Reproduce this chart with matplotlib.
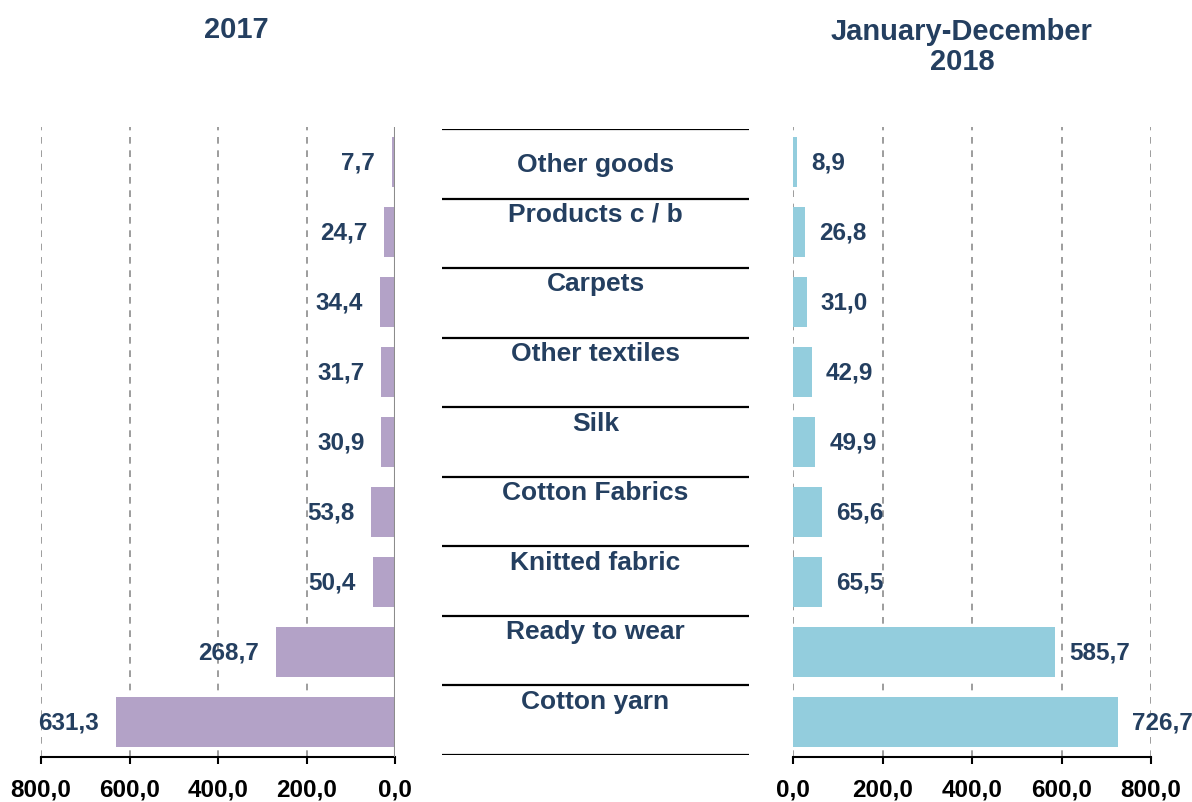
import matplotlib
matplotlib.use("Agg")
import matplotlib.pyplot as plt

plt.rcParams['font.family'] = ['Liberation Sans', 'DejaVu Sans']
plt.rcParams['font.weight'] = 'bold'

categories = ["Other goods", "Products c / b", "Carpets", "Other textiles", "Silk",
              "Cotton Fabrics", "Knitted fabric", "Ready to wear", "Cotton yarn"]
values_2017 = [7.7, 24.7, 34.4, 31.7, 30.9, 53.8, 50.4, 268.7, 631.3]
values_2018 = [8.9, 26.8, 31.0, 42.9, 49.9, 65.6, 65.5, 585.7, 726.7]
ticks = [0, 200, 400, 600, 800]

label_color = "#243F60"
grid_color = "#8C8C8C"


def fmt(v):
    return f"{v:.1f}".replace(".", ",")


fig = plt.figure(figsize=(11.92, 8.03), dpi=100)
W, H = 1192, 803
bottom = 45 / H
height = 630 / H

ax_l = fig.add_axes([41 / W, bottom, 354 / W, height])
ax_c = fig.add_axes([442 / W, 47 / H, 307 / W, 626 / H])
ax_r = fig.add_axes([793 / W, bottom, 358 / W, height])

pos = list(range(len(categories)))

for ax, vals, color, side in [(ax_l, values_2017, "#B3A2C7", "left"),
                              (ax_r, values_2018, "#93CDDD", "right")]:
    ax.barh(pos, vals, height=0.71, color=color, zorder=2)
    ax.set_ylim(len(categories) - 0.5, -0.5)
    ax.set_xlim(0, 800)
    ax.set_xticks(ticks)
    ax.set_xticklabels([fmt(t) for t in ticks], fontsize=17.5, fontweight='bold')
    ax.set_yticks([])
    for t in ticks:
        ax.axvline(t, color=grid_color, linestyle=(0, (4, 4)), linewidth=1.2, zorder=1)
    for s in ["top", "left", "right"]:
        ax.spines[s].set_visible(False)
    ax.spines["bottom"].set_color("black")
    ax.spines["bottom"].set_linewidth(1.5)
    ax.tick_params(axis="x", direction="out", length=5, width=1.5, pad=10)
    for p, v in zip(pos, vals):
        if side == "left":
            ax.annotate(fmt(v), (v, p), xytext=(-12, 0), textcoords="offset points",
                        ha="right", va="center", fontsize=17.5, fontweight='bold',
                        color=label_color)
        else:
            ax.annotate(fmt(v), (v, p), xytext=(10, 0), textcoords="offset points",
                        ha="left", va="center", fontsize=17.5, fontweight='bold',
                        color=label_color)

ax_l.invert_xaxis()
ax_l.axvline(0, color=grid_color, linewidth=1.5, zorder=3)

# centre column with category names
ax_c.set_xlim(0, 1)
ax_c.set_ylim(len(categories) - 0.5, -0.5)
ax_c.axis("off")
for i in range(len(categories) + 1):
    ax_c.axhline(i - 0.5, color="black", linewidth=1.6)
for p, name in zip(pos, categories):
    y = p if p == 0 else p - 0.5 + 0.22
    ax_c.text(0.5, y, name, ha="center", va="center", fontsize=19,
              fontweight='bold', color=label_color)

fig.text(236 / W, 1 - 30 / H, "2017", ha="center", va="center", fontsize=21,
         fontweight='bold', color=label_color)
fig.text(962 / W, 1 - 47 / H, "January-December\n2018", ha="center", va="center",
         fontsize=21, fontweight='bold', color=label_color, linespacing=1.1)

fig.savefig("out.png", dpi=100)
